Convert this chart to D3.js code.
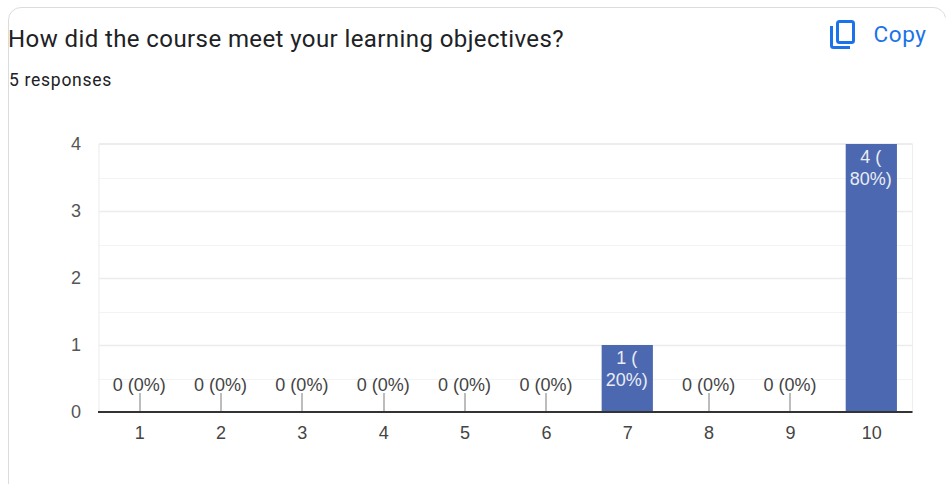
<!DOCTYPE html>
<html><head><meta charset="utf-8">
<script src="https://cdn.jsdelivr.net/npm/d3@7"></script>
<style>html,body{margin:0;padding:0;background:#fff;overflow:hidden}</style>
</head><body><svg id="c" width="949" height="484"></svg>
<script>
const title = "How did the course meet your learning objectives?";
const subtitle = "5 responses";
const copyLabel = "Copy";
const categories = ["1","2","3","4","5","6","7","8","9","10"];
const counts = [0,0,0,0,0,0,1,0,0,4];
const percents = [0,0,0,0,0,0,20,0,0,80];
const yTicks = [0,1,2,3,4];
const minorTicks = [0.5,1.5,2.5,3.5];

const svg = d3.select("#c");
const W = 949;
const L = 99, R = 912.5, T = 144, B = 412;
const chartFont = "'Liberation Sans', Arial, sans-serif";
const fs = 18;

svg.append("path").attr("fill","#fff").attr("stroke","#dadce0").attr("stroke-width",1)
  .attr("d",`M8.5 484V20a12.5 12.5 0 0 1 12.5-12.5H${W-16}a12.5 12.5 0 0 1 12.5 10`);

svg.append("text").attr("x",8).attr("y",46.5).attr("font-family","Roboto, sans-serif")
  .attr("font-size",24).attr("letter-spacing",0.41).attr("fill","#202124").text(title);
svg.append("text").attr("x",9).attr("y",85.5).attr("font-family","Roboto, sans-serif")
  .attr("font-size",17.5).attr("letter-spacing",0.72).attr("fill","#202124").text(subtitle);

const icon = svg.append("g").attr("fill","none").attr("stroke","#1a73e8").attr("stroke-width",3);
icon.append("rect").attr("x",837.5).attr("y",21.5).attr("width",16).attr("height",21).attr("rx",2);
icon.append("path").attr("d","M831.5 26V45.5a2 2 0 0 0 2 2H850");
svg.append("text").attr("x",873.5).attr("y",42).attr("font-family","Roboto, sans-serif")
  .attr("font-size",22.5).attr("font-weight",400).attr("letter-spacing",0.6).attr("fill","#1a73e8").text(copyLabel);

const x = d3.scaleBand().domain(categories).range([L,R]);
const y = d3.scaleLinear().domain([0,4]).range([B,T]);
const barW = d3.scaleBand().domain(categories).range([L,R]).paddingInner(0.37).paddingOuter(0.185).bandwidth();
const cx = c => x(c) + x.bandwidth()/2;

const g = svg.append("g");
g.selectAll("line.minor").data(minorTicks).join("line").attr("class","minor")
  .attr("x1",L).attr("x2",R).attr("y1",d=>Math.round(y(d))+.5).attr("y2",d=>Math.round(y(d))+.5)
  .attr("stroke","#f3f3f3").attr("stroke-width",1);
g.selectAll("line.major").data(yTicks.filter(d=>d>0)).join("line").attr("class","major")
  .attr("x1",L).attr("x2",R).attr("y1",d=>y(d)+(d===4?0:.5)).attr("y2",d=>y(d)+(d===4?0:.5))
  .attr("stroke","#ececec").attr("stroke-width",d=>d===4?2:1.3);
g.selectAll("line.vert").data([L,R]).join("line").attr("class","vert")
  .attr("x1",d=>d).attr("x2",d=>d).attr("y1",T).attr("y2",B).attr("stroke","#efefef").attr("stroke-width",1.2);

g.selectAll("text.yt").data(yTicks).join("text").attr("class","yt")
  .attr("x",81).attr("y",d=>y(d)+6).attr("text-anchor","end")
  .attr("font-family",chartFont).attr("font-size",fs).attr("fill","#555").text(d=>d);

const data = categories.map((c,i)=>({c,v:counts[i],p:percents[i]}));
g.selectAll("rect.bar").data(data.filter(d=>d.v>0)).join("rect").attr("class","bar")
  .attr("x",d=>cx(d.c)-barW/2-0.5).attr("width",barW)
  .attr("y",d=>y(d.v)).attr("height",d=>B-y(d.v)).attr("fill","#4c68b0");

const zero = data.filter(d=>d.v===0);
g.selectAll("line.stem").data(zero).join("line").attr("class","stem")
  .attr("x1",d=>Math.round(cx(d.c))).attr("x2",d=>Math.round(cx(d.c))).attr("y1",393).attr("y2",B)
  .attr("stroke","#999").attr("stroke-width",1.3);
g.selectAll("text.zero").data(zero).join("text").attr("class","zero")
  .attr("x",d=>cx(d.c)-0.5).attr("y",391).attr("text-anchor","middle")
  .attr("font-family",chartFont).attr("font-size",fs).attr("fill","#444")
  .text(d=>`${d.v} (${d.p}%)`);

const nz = g.selectAll("g.lab").data(data.filter(d=>d.v>0)).join("g").attr("class","lab");
nz.append("text").attr("x",d=>cx(d.c)-1).attr("y",d=>y(d.v)+19).attr("text-anchor","middle")
  .attr("font-family",chartFont).attr("font-size",fs).attr("fill","#e9ecf5").text(d=>`${d.v} (`);
nz.append("text").attr("x",d=>cx(d.c)-1).attr("y",d=>y(d.v)+40.5).attr("text-anchor","middle")
  .attr("font-family",chartFont).attr("font-size",fs).attr("fill","#e9ecf5").text(d=>`${d.p}%)`);

g.append("line").attr("x1",L-1).attr("x2",R).attr("y1",B).attr("y2",B).attr("stroke","#333").attr("stroke-width",2);

g.selectAll("text.xt").data(categories).join("text").attr("class","xt")
  .attr("x",d=>cx(d)).attr("y",439).attr("text-anchor","middle")
  .attr("font-family",chartFont).attr("font-size",fs).attr("fill","#444").text(d=>d);
</script></body></html>
